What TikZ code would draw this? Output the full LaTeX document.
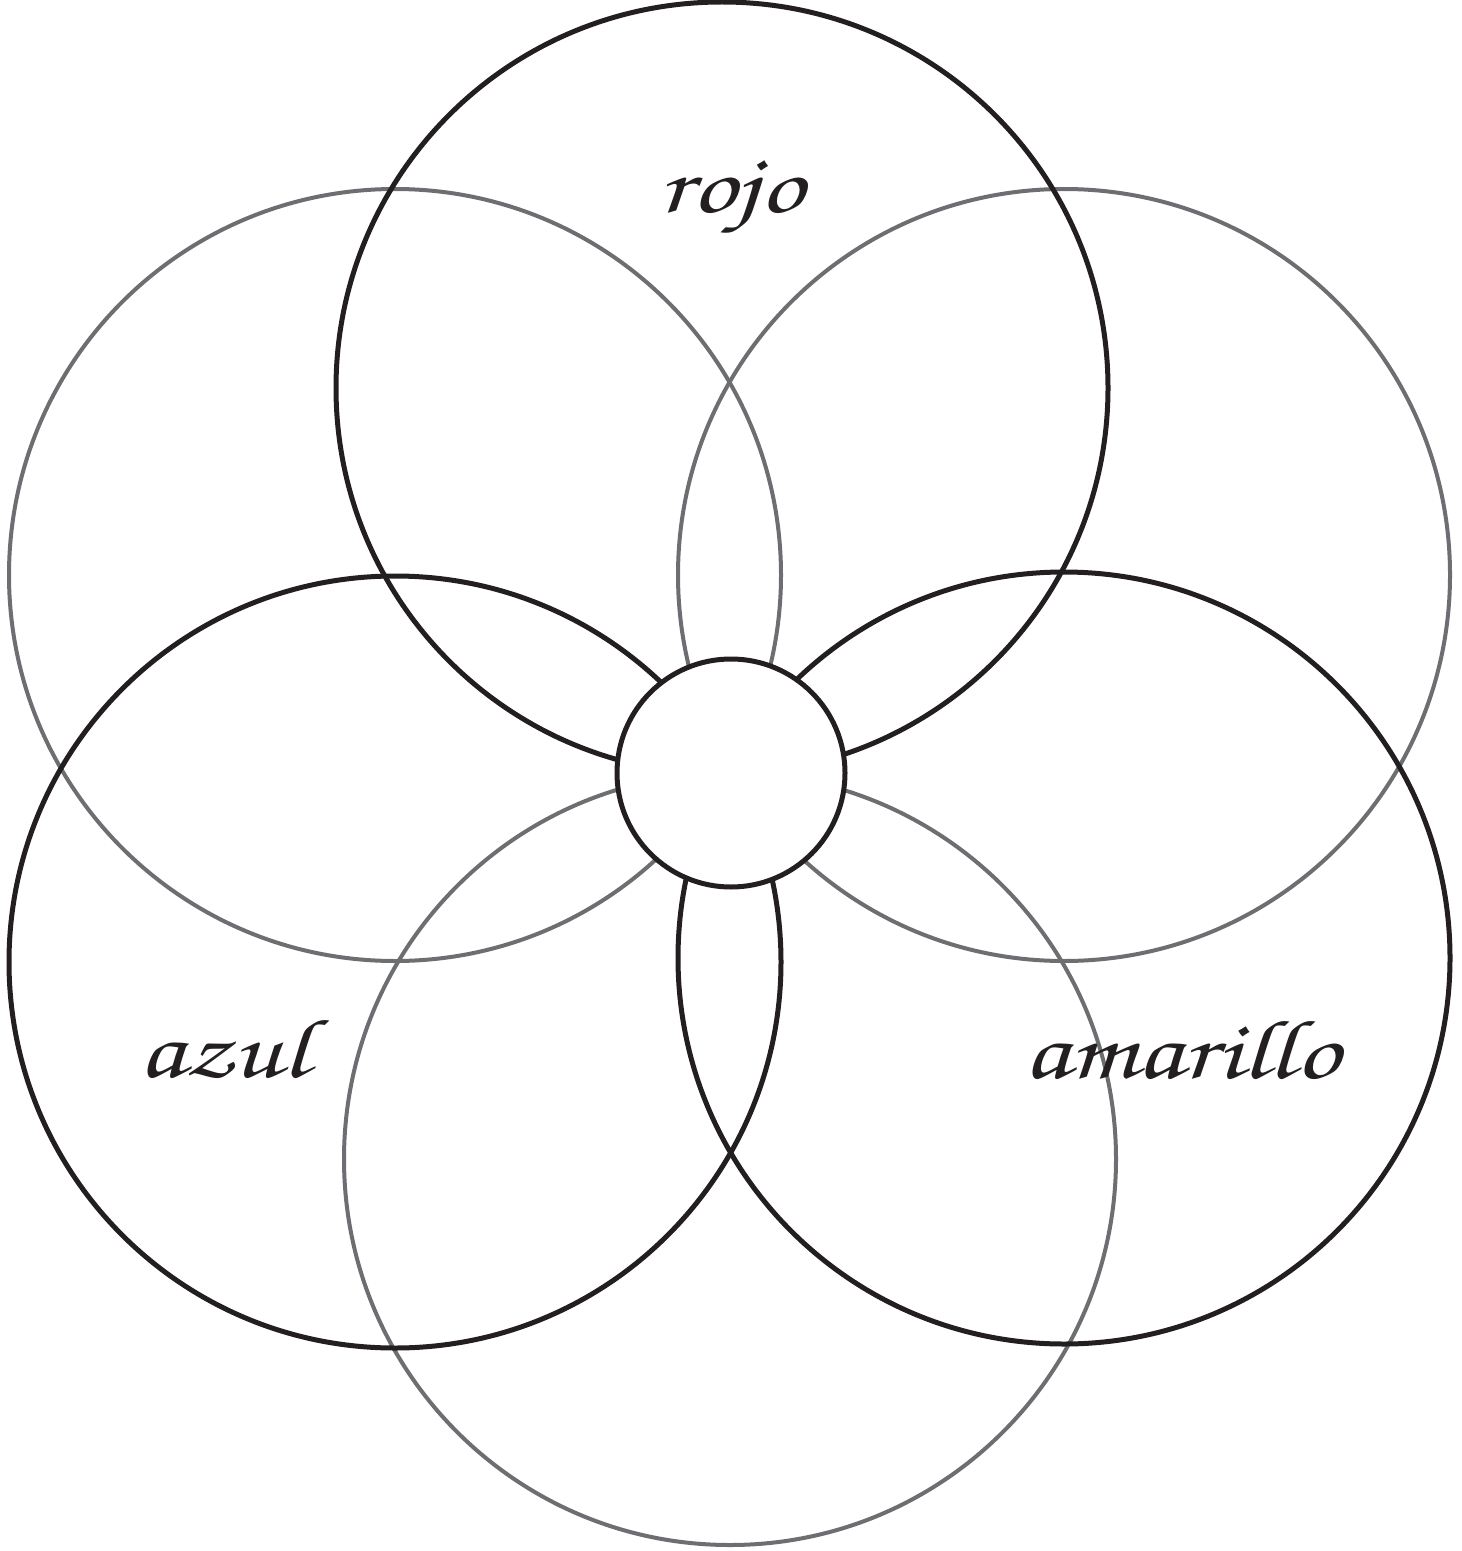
\documentclass[tikz,border=0pt]{standalone}
\usepackage[T1,TU]{fontenc}
\definecolor{inkblack}{HTML}{231F20}
\definecolor{inkgray}{HTML}{6D6E71}
\newcommand{\scriptfnt}{\fontencoding{T1}\fontfamily{pzc}\fontseries{mb}\fontshape{it}\fontsize{42}{42}\selectfont}
\begin{document}
\begin{tikzpicture}[x=0.5pt,y=-0.5pt,
  blackring/.style={draw=inkblack,line width=2.5pt},
  grayring/.style={draw=inkgray,line width=2pt},
  label/.style={inner sep=0pt,anchor=base,text=inkblack,font=\scriptfnt,xscale=1.3}]
\useasboundingbox (0,0) rectangle (1461,1551);
% gray circles
\draw[grayring] (395,575) circle[radius=386];
\draw[grayring] (1064,575) circle[radius=386];
\draw[grayring] (730,1159) circle[radius=386];
% black circles
\draw[blackring] (722,388) circle[radius=386];
\draw[blackring] (395,962) circle[radius=386];
\draw[blackring] (1064,958) circle[radius=386];
% center
\node[blackring,fill=white,circle,minimum size=114pt,inner sep=0pt] (center) at (731,773) {};
% labels
\node[label] (rojo) at (731,213) {rojo};
\node[label] (azul) at (224,1077) {azul};
\node[label] (amarillo) at (1181,1078) {amarillo};
\end{tikzpicture}
\end{document}
